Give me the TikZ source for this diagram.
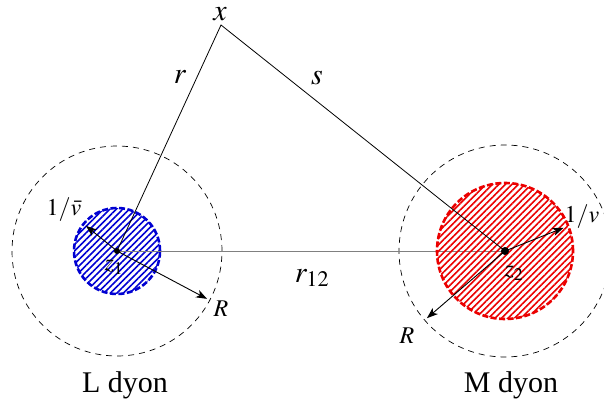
\documentclass[tikz,border=0pt]{standalone}
\usepackage{mathptmx}
\usepackage[no-math]{fontspec}
\setmainfont{Liberation Serif}
\usetikzlibrary{patterns.meta,arrows.meta}
\definecolor{dyonblue}{RGB}{0,0,210}
\definecolor{dyonred}{RGB}{235,0,0}
\tikzset{
  outer/.style={dashed, dash pattern=on 6pt off 5pt, line width=0.7pt},
  core/.style={line width=2.6pt, dash pattern=on 6pt off 2.5pt,
    pattern={Lines[angle=45,distance=4.6pt,line width=1.6pt]}},
  rad/.style={-{Stealth[length=11pt,width=8pt,inset=3pt]}, line width=0.9pt},
  lbl/.style={inner sep=1pt, font=\fontsize{30}{36}\selectfont},
  sml/.style={inner sep=1pt, font=\fontsize{24}{28}\selectfont}
}
\begin{document}
\begin{tikzpicture}[x=1pt,y=1pt]
\useasboundingbox (0,0) rectangle (604,410);
\coordinate (z1) at (117,159);
\coordinate (z2) at (505,159);
\coordinate (x) at (221,385);

% outer regions
\draw[outer] (z1) circle (105);
\draw[outer] (z2) circle (106);

% left core
\draw[core, draw=dyonblue, pattern color=dyonblue] (z1) circle (43);
\draw[gray, line width=0.9pt] (z1) -- (z2);
% right core
\draw[core, draw=dyonred, pattern color=dyonred] (z2) circle (68);

\draw[line width=0.8pt] (z1) -- (x) -- (z2);

\coordinate (vb) at ([shift={(141:40)}]z1);
\coordinate (R1) at ([shift={(-28:102)}]z1);
\coordinate (v2) at ([shift={(21.6:63)}]z2);
\coordinate (R2) at ([shift={(220.7:103)}]z2);
\draw[rad] (z1) -- (vb);
\draw[rad] (z1) -- (R1);
\draw[rad] (z2) -- (v2);
\draw[rad] (z2) -- (R2);

\fill (z1) circle (3);
\fill (z2) circle (4);

\node[lbl] (xl) at (220,396) {$x$};
\node[lbl] (rl) at (180,333) {$r$};
\node[lbl] (sl) at (317,332) {$s$};
\node[lbl] (r12) at (312,132) {$r_{12}$};
\node[sml] (z1l) at (114,143) {$z_1$};
\node[sml] (z2l) at (514,137) {$z_2$};
\node[sml] (vbl) at (64,200) {$1/\bar{v}$};
\node[sml] (vl) at (582,193) {$1/v$};
\node[sml] (R1l) at (221,101) {$R$};
\node[sml] (R2l) at (407,74) {$R$};
\node[lbl] (L) at (125,25) {L dyon};
\node[lbl] (M) at (511,25) {M dyon};
\end{tikzpicture}
\end{document}
